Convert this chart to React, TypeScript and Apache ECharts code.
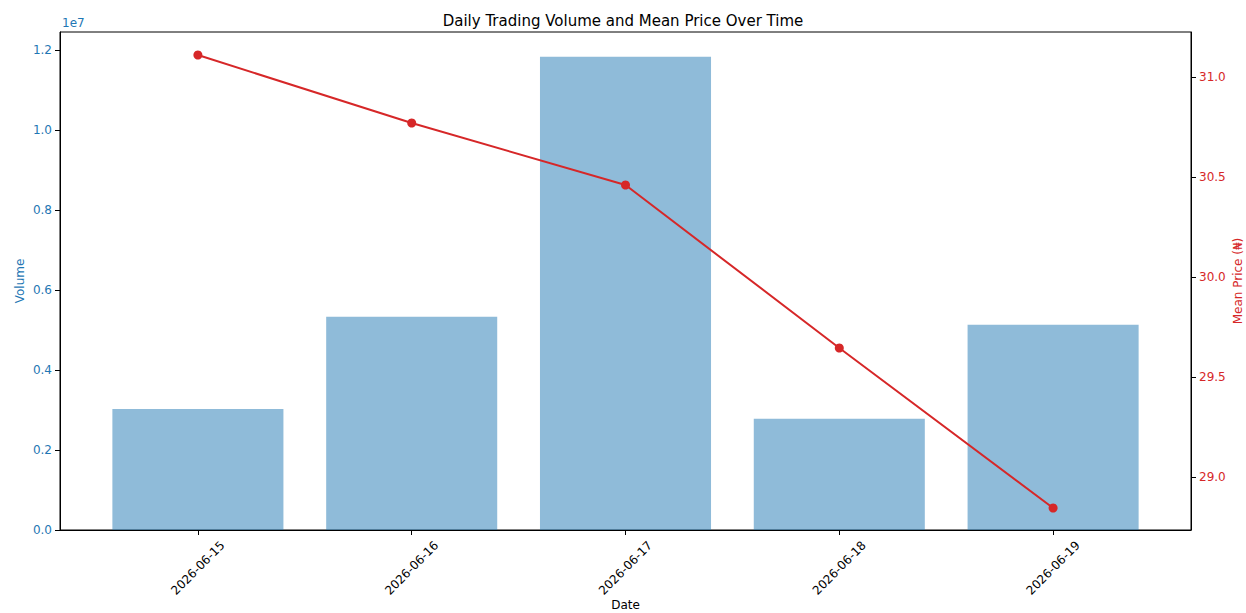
import React, { useEffect, useRef } from "react";
import * as echarts from "echarts";

const dates = ["2026-06-15", "2026-06-16", "2026-06-17", "2026-06-18", "2026-06-19"];
const volumes = [3025000, 5330000, 11830000, 2780000, 5130000];
const meanPrices = [31.11, 30.77, 30.46, 29.645, 28.845];
const volumeTicks = [0, 2000000, 4000000, 6000000, 8000000, 10000000, 12000000];
const priceTicks = [29.0, 29.5, 30.0, 30.5, 31.0];
const xTicks = [0, 1, 2, 3, 4];

const BLUE = "#1f77b4";
const RED = "#d62728";
const FONT = "DejaVu Sans";

export default function App() {
  const ref = useRef<HTMLDivElement>(null);
  useEffect(() => {
    if (!ref.current) return;
    const chart = echarts.init(ref.current, null, { renderer: "svg" });
    chart.setOption({
      animation: false,
      textStyle: { fontFamily: FONT },
      title: {
        text: "Daily Trading Volume and Mean Price Over Time",
        left: "center",
        top: 8,
        textStyle: { fontFamily: FONT, fontSize: 15, fontWeight: "normal", color: "#000" },
      },
      graphic: [
        {
          type: "text",
          left: 62,
          top: 17,
          style: { text: "1e7", fill: BLUE, fontSize: 12, fontFamily: FONT },
        },
      ],
      grid: {
        left: 60,
        right: 55,
        top: 32,
        bottom: 83,
        show: true,
        borderColor: "#000",
        borderWidth: 1,
        backgroundColor: "transparent",
        containLabel: false,
        outerBoundsMode: "none",
      },
      xAxis: {
        type: "value",
        min: -0.645,
        max: 4.645,
        name: "Date",
        nameLocation: "middle",
        nameGap: 69,
        nameMoveOverlap: false,
        nameTextStyle: { color: "#000", fontSize: 12, fontFamily: FONT },
        splitLine: { show: false },
        axisLine: { show: true, onZero: false, lineStyle: { color: "#000" } },
        axisTick: { show: true, customValues: xTicks, length: 5, lineStyle: { color: "#000" } },
        axisLabel: {
          customValues: xTicks,
          rotate: 45,
          align: "center",
          verticalAlign: "middle",
          margin: 38,
          color: "#000",
          fontSize: 12,
          fontFamily: FONT,
          formatter: (v: number) => dates[Math.round(v)] ?? "",
        },
      },
      yAxis: [
        {
          type: "value",
          min: 0,
          max: 12450000,
          name: "Volume",
          nameLocation: "middle",
          nameGap: 34,
          nameMoveOverlap: false,
          nameTextStyle: { color: BLUE, fontSize: 12, fontFamily: FONT },
          splitLine: { show: false },
          axisLine: { show: true, onZero: false, lineStyle: { color: "#000" } },
          axisTick: { show: true, customValues: volumeTicks, length: 5, lineStyle: { color: "#000" } },
          axisLabel: {
            customValues: volumeTicks,
            color: BLUE,
            fontSize: 12,
            fontFamily: FONT,
            margin: 8,
            formatter: (v: number) => (v / 1e7).toFixed(1),
          },
        },
        {
          type: "value",
          min: 28.735,
          max: 31.225,
          position: "right",
          name: "Mean Price (₦)",
          nameLocation: "middle",
          nameRotate: 90,
          nameGap: 41,
          nameMoveOverlap: false,
          nameTextStyle: { color: RED, fontSize: 12, fontFamily: FONT },
          splitLine: { show: false },
          axisLine: { show: true, onZero: false, lineStyle: { color: "#000" } },
          axisTick: { show: true, customValues: priceTicks, length: 5, lineStyle: { color: "#000" } },
          axisLabel: {
            customValues: priceTicks,
            color: RED,
            fontSize: 12,
            fontFamily: FONT,
            margin: 8,
            formatter: (v: number) => v.toFixed(1),
          },
        },
      ],
      series: [
        {
          type: "bar",
          yAxisIndex: 0,
          barWidth: "80%",
          itemStyle: { color: "rgba(31,119,180,0.5)" },
          data: volumes.map((v, i) => [i, v]),
          z: 1,
        },
        {
          type: "line",
          yAxisIndex: 1,
          symbol: "circle",
          symbolSize: 9,
          lineStyle: { color: RED, width: 2 },
          itemStyle: { color: RED },
          data: meanPrices.map((v, i) => [i, v]),
          z: 3,
        },
      ],
    });
    return () => chart.dispose();
  }, []);
  return (
    <div
      ref={ref}
      style={{ position: "fixed", left: 0, top: 0, width: 1246, height: 613, background: "#fff" }}
    />
  );
}
